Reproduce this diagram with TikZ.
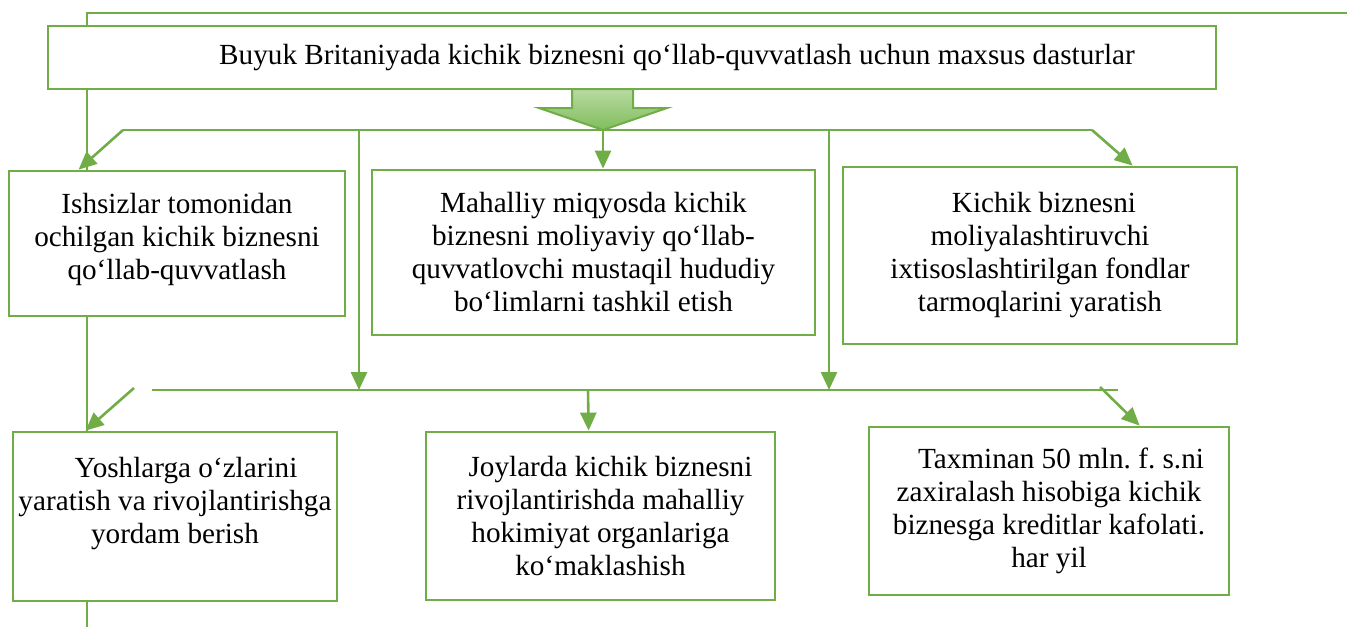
\documentclass[tikz,border=0pt]{standalone}
\usepackage{fontspec}
\setmainfont{Liberation Serif}
\usetikzlibrary{arrows.meta, calc}

\definecolor{boxgreen}{RGB}{112,173,71}
\definecolor{arrowtop}{RGB}{184,218,162}
\definecolor{arrowbot}{RGB}{128,189,92}
\frenchspacing

\begin{document}
\begin{tikzpicture}[x=0.5pt,y=-0.5pt,->,>={Triangle[length=9pt,width=8pt]},
  line width=1.3pt,draw=boxgreen,
  main node/.style={rectangle,draw=boxgreen,fill=white,line width=1.4pt,
    inner sep=0pt,align=center,font=\fontsize{14.6}{16.5}\selectfont}]

  \useasboundingbox (0,0) rectangle (1347,627);

  \node[main node, minimum width=584pt, minimum height=31.5pt] (0) at (632,57.5)
    {\hspace*{45pt}Buyuk Britaniyada kichik biznesni qo‘llab-quvvatlash uchun maxsus dasturlar};

  \node[main node, minimum width=168pt, minimum height=72.5pt] (1) at (177,243.5)
    {Ishsizlar tomonidan\\ochilgan kichik biznesni\\qo‘llab-quvvatlash\\[-9pt]\mbox{}};
  \node[main node, minimum width=221.5pt, minimum height=82.5pt] (2) at (593.5,252.5)
    {Mahalliy miqyosda kichik\\biznesni moliyaviy qo‘llab-\\quvvatlovchi mustaqil hududiy\\bo‘limlarni tashkil etish};
  \node[main node, minimum width=197pt, minimum height=88.5pt] (3) at (1040,255.5)
    {\hspace*{4pt}Kichik biznesni\\moliyalashtiruvchi\\ixtisoslashtirilgan fondlar\\tarmoqlarini yaratish};

  \node[main node, minimum width=162pt, minimum height=84.5pt] (4) at (175,516.5)
    {\hspace*{11pt}Yoshlarga o‘zlarini\\yaratish va rivojlantirishga\\yordam berish\\\mbox{}};
  \node[main node, minimum width=174.5pt, minimum height=84pt] (5) at (600.5,516)
    {\hspace*{10pt}Joylarda kichik biznesni\\rivojlantirishda mahalliy\\hokimiyat organlariga\\ko‘maklashish};
  \node[main node, minimum width=180pt, minimum height=84pt] (6) at (1049,511)
    {\hspace*{12pt}Taxminan 50 mln. f. s.ni\\zaxiralash hisobiga kichik\\biznesga kreditlar kafolati.\\har yil};

  % outer frame line on the left
  \coordinate (t0) at (87,13);
  \coordinate (t1) at (1347,13);
  \coordinate (b0) at (87,627);
  \draw[-] (t1) -- (t0) -- (0.north -| t0);
  \draw[-] (0.south -| t0) -- (1.north -| t0);
  \draw[-] (1.south -| t0) -- (4.north -| t0);
  \draw[-] (4.south -| t0) -- (b0);

  % big arrow
  \draw[-,line width=1pt,top color=arrowtop,bottom color=arrowbot]
    (572,89) -- (633,89) -- (633,108) -- (667,108) -- (603,130)
    -- (539,108) -- (572,108) -- cycle;

  % first row
  \coordinate (a1) at (123,130);
  \coordinate (a2) at (359,130);
  \coordinate (a3) at (603,130);
  \coordinate (a4) at (829,130);
  \coordinate (a5) at (1092,130);
  \draw[-] (a1) -- (a5);

  % second row
  \coordinate (c1) at (152,390);
  \coordinate (c2) at (1118,390);
  \coordinate (c3) at (134,388);
  \coordinate (c4) at (588,390);
  \coordinate (c5) at (1100,387);
  \draw[-] (c1) -- (c2);

  \path
    (a1) edge ($(1.north west)+(71,0)$)
    (a3) edge (2.north -| a3)
    (a5) edge ($(3.north west)+(291,0)$)
    (a2) edge (a2 |- c1)
    (a4) edge (a4 |- c1)
    (c3) edge ($(4.north west)+(74,0)$)
    (c4) edge ($(5.north west)+(164,0)$)
    (c5) edge ($(6.north west)+(272,0)$);
\end{tikzpicture}
\end{document}
